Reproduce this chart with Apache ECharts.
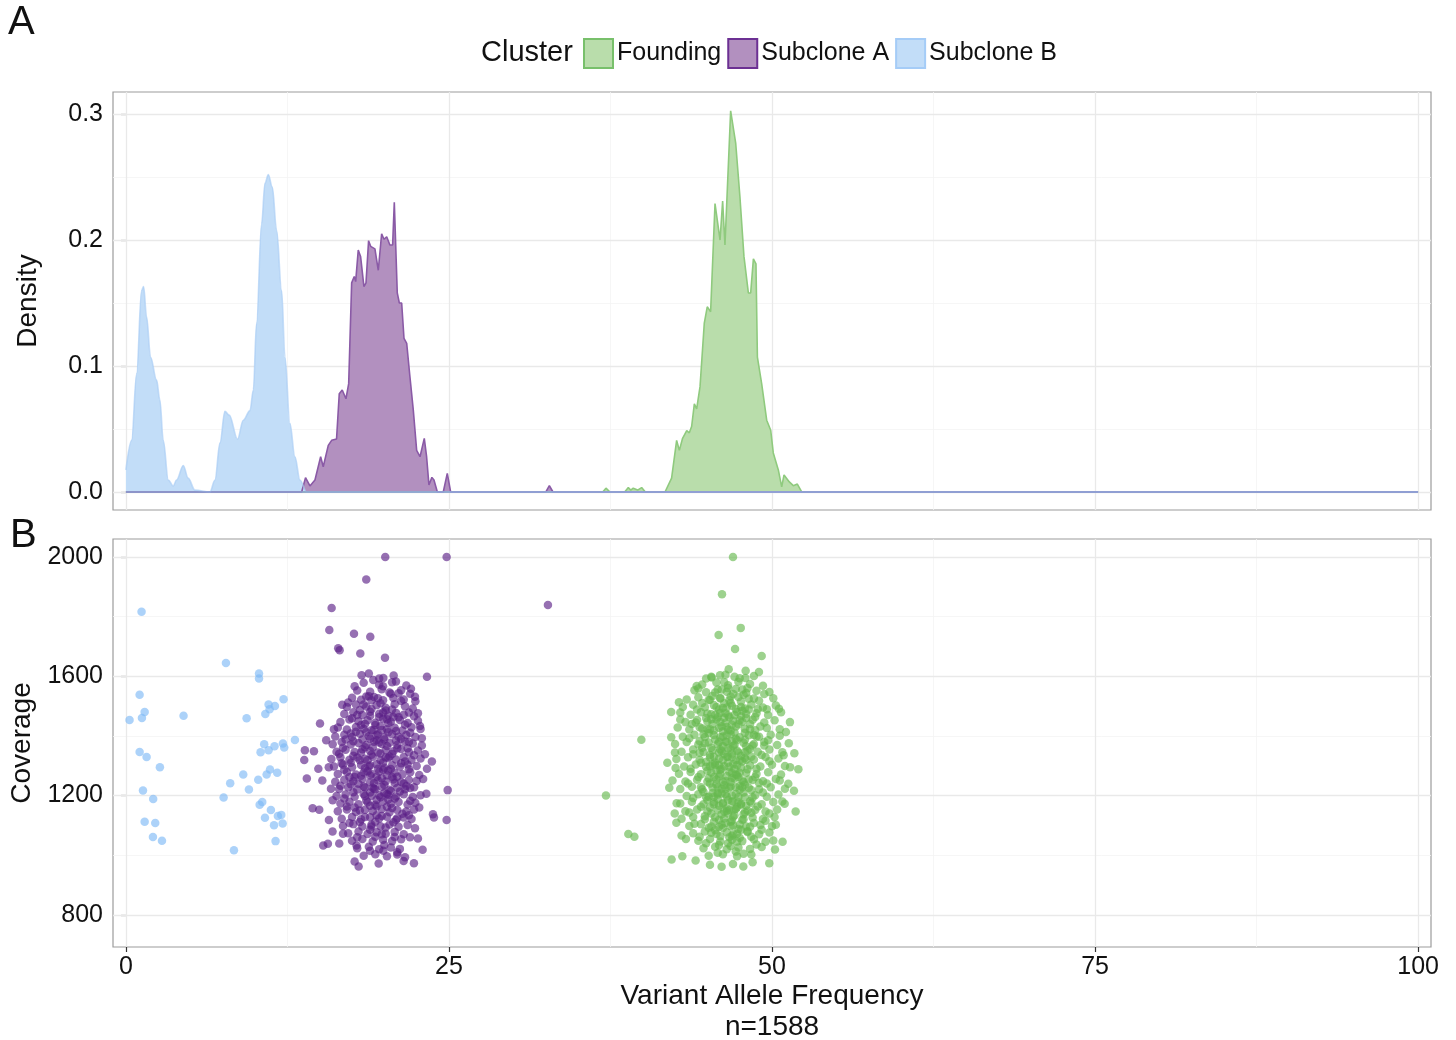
<!DOCTYPE html>
<html>
<head>
<meta charset="utf-8">
<title>Clonal clusters: VAF density and coverage</title>
<script src="https://cdn.jsdelivr.net/npm/echarts@6/dist/echarts.min.js"></script>
<style>
  html, body { margin: 0; padding: 0; background: #ffffff; }
  #chart { width: 1456px; height: 1040px; }
</style>
</head>
<body>
<div id="chart"></div>
<script>
// ---- data -------------------------------------------------------------
const clusters = ['Founding', 'Subclone A', 'Subclone B'];
const sampleSize = 1588;

const vafTicks = [0, 25, 50, 75, 100];
const vafMinor = [12.5, 37.5, 62.5, 87.5];
const vafRange = [0, 100];
const densityTicks = [0, 0.1, 0.2, 0.3];
const densityMinor = [0.05, 0.15, 0.25];
const coverageTicks = [800, 1200, 1600, 2000];
const coverageMinor = [1000, 1400, 1800];

// kernel density per cluster: [VAF, density]
const foundingDensity = [[0,0],[36.9,0],[37.15,0.003],[37.46,0],[38.6,0],[38.88,0.0035],[39.07,0.0015],[39.26,0.003],[39.6,0.0015],[39.91,0.0035],[40.2,0],
  [41.72,0],[42.23,0.011],[42.62,0.041],[42.83,0.033],[43.08,0.0426],[43.4,0.0487],[43.6,0.047],[43.78,0.052],[43.99,0.070],[44.17,0.066],
  [44.43,0.0836],[44.76,0.134],[44.99,0.147],[45.25,0.143],[45.59,0.229],[45.98,0.200],[46.18,0.231],[46.36,0.196],[46.8,0.3026],[47.19,0.277],
  [47.52,0.234],[47.83,0.187],[48.17,0.158],[48.35,0.158],[48.56,0.185],[48.76,0.181],[48.87,0.107],[49.2,0.086],[49.59,0.057],[49.9,0.049],
  [50.1,0.031],[50.49,0.0175],[50.75,0.004],[50.93,0.0135],[51.34,0.008],[51.65,0.005],[51.96,0.0063],[52.3,0],[100,0]];

const subcloneADensity = [[0,0],[13.6,0],[13.9,0.0114],[14.24,0.0048],[14.63,0.0095],[15.07,0.028],[15.27,0.020],[15.66,0.037],[15.92,0.041],
  [16.3,0.042],[16.51,0.078],[16.74,0.081],[17.03,0.074],[17.24,0.086],[17.47,0.166],[17.67,0.171],[17.78,0.167],[17.98,0.192],[18.16,0.187],
  [18.42,0.163],[18.58,0.166],[18.78,0.1995],[18.94,0.195],[19.27,0.193],[19.53,0.176],[19.79,0.205],[19.97,0.2006],[20.18,0.2026],[20.43,0.196],
  [20.64,0.196],[20.77,0.230],[21.0,0.158],[21.16,0.150],[21.34,0.150],[21.52,0.122],[21.73,0.118],[21.98,0.0915],[22.24,0.065],[22.5,0.033],
  [22.76,0.028],[23.09,0.0426],[23.27,0.028],[23.45,0.0056],[23.68,0.0116],[23.84,0.0095],[24.1,0],[24.56,0],[24.87,0.0148],[25.13,0],
  [32.5,0],[32.77,0.005],[33.05,0],[100,0]];

const subcloneBDensity = [[0,0.0175],[0.44,0.041],[0.83,0.094],[1.21,0.160],[1.37,0.163],[1.6,0.139],[1.91,0.107],[2.37,0.089],[2.63,0.073],
  [2.89,0.041],[3.28,0.0095],[3.66,0.0048],[3.92,0.0095],[4.44,0.021],[4.82,0.011],[5.34,0.0015],[6.5,0],[6.89,0.0095],[7.28,0.039],[7.66,0.064],
  [8.0,0.061],[8.64,0.042],[9.08,0.057],[9.6,0.0646],[9.86,0.081],[10.11,0.134],[10.5,0.213],[10.76,0.245],[11.02,0.252],[11.33,0.242],
  [11.66,0.208],[12.05,0.160],[12.31,0.107],[12.69,0.0545],[13.08,0.028],[13.47,0.0095],[13.98,0],[100,0]];

// variants: [VAF, coverage]
const foundingPoints = [
  [46.98,2000],[46.13,1875],[47.58,1762],[45.87,1738],[47.14,1691],[49.2,1668],[39.89,1387],[37.15,1200],[38.88,1071],[39.35,1062],
  [42.23,985],[43.06,996],[44.09,982],[45.2,968],[46.1,961],[46.98,970],[47.78,962],[48.5,976],[49.79,973],[50.23,1019],[50.82,1045],
  [50.1,1049],[51.83,1146],[50.98,1172],[51.26,1239],[52.04,1288],[51.73,1342],[51.08,1413],[51.39,1446],[50.54,1491],[48.99,1614],
  [47.96,1618],[47.94,1594],[46.65,1623],[45.98,1603],[45.33,1596],[44.17,1567],[44.3,1559],[42.8,1513],[42.9,1455],[42.49,1344],
  [42.54,1292],[42.05,1226],[42.62,1174],[42.47,1140],[42.6,1109],[43.34,1054],
  [45.3,1598],[46.4,1605],[47.5,1593],[48.6,1601],
  [44.6,1572],[45.7,1579],[46.6,1570],[47.4,1581],[48.3,1574],[49.3,1568],
  [44.0,1553],[44.9,1546],[45.8,1555],[46.5,1548],[47.2,1557],[48.0,1544],[48.8,1551],[49.8,1547],
  [43.4,1522],[44.3,1529],[45.2,1521],[46.0,1527],[46.7,1519],[47.4,1530],[48.2,1524],[49.0,1518],[50.1,1526],
  [43.1,1497],[43.9,1504],[44.8,1496],[45.5,1503],[46.2,1493],[46.9,1501],[47.6,1497],[48.4,1505],[49.3,1495],[50.3,1502],
  [42.9,1478],[43.7,1471],[44.5,1479],[45.3,1472],[46.0,1477],[46.6,1469],[47.3,1480],[48.0,1473],[48.8,1476],[49.7,1470],[50.7,1479],
  [43.3,1446],[44.2,1453],[45.0,1448],[45.7,1455],[46.4,1444],[47.0,1451],[47.7,1447],[48.5,1454],[49.4,1445],[50.2,1452],
  [42.7,1428],[43.6,1421],[44.4,1429],[45.2,1422],[45.9,1427],[46.6,1420],[47.2,1431],[47.9,1424],[48.7,1419],[49.6,1426],[50.6,1422],
  [43.1,1397],[44.0,1404],[44.8,1396],[45.5,1403],[46.2,1398],[46.8,1405],[47.5,1395],[48.2,1402],[49.0,1397],[49.9,1404],
  [42.5,1373],[43.4,1379],[44.3,1371],[45.1,1378],[45.8,1372],[46.5,1380],[47.1,1370],[47.8,1377],[48.6,1373],[49.4,1379],[50.4,1369],[51.3,1375],
  [43.0,1347],[43.9,1354],[44.7,1346],[45.4,1352],[46.1,1348],[46.8,1355],[47.4,1344],[48.1,1351],[48.9,1347],[49.8,1354],[50.8,1345],
  [42.6,1322],[43.5,1328],[44.4,1320],[45.2,1327],[45.9,1323],[46.5,1330],[47.2,1318],[47.9,1326],[48.6,1321],[49.5,1329],[50.5,1324],
  [43.2,1297],[44.1,1304],[44.9,1296],[45.6,1302],[46.3,1298],[47.0,1305],[47.6,1294],[48.3,1301],[49.1,1297],[50.0,1303],[51.0,1299],
  [42.8,1273],[43.7,1279],[44.5,1271],[45.3,1277],[46.0,1272],[46.7,1280],[47.3,1269],[48.0,1276],[48.8,1272],[49.7,1278],[50.7,1270],
  [43.3,1247],[44.2,1253],[45.0,1246],[45.7,1254],[46.4,1249],[47.1,1256],[47.8,1245],[48.5,1252],[49.3,1248],[50.3,1255],
  [42.9,1222],[43.8,1229],[44.6,1221],[45.4,1227],[46.1,1223],[46.8,1230],[47.5,1219],[48.2,1226],[49.0,1221],[49.9,1228],[51.0,1223],
  [43.4,1198],[44.3,1204],[45.1,1196],[45.8,1203],[46.5,1197],[47.2,1205],[47.9,1194],[48.7,1201],[49.6,1196],[50.5,1203],
  [42.9,1173],[43.8,1179],[44.7,1171],[45.5,1177],[46.2,1172],[46.9,1180],[47.6,1169],[48.4,1176],[49.2,1171],[50.1,1178],
  [43.3,1147],[44.2,1153],[45.0,1146],[45.8,1152],[46.5,1148],[47.2,1155],[47.9,1144],[48.7,1151],[49.5,1146],[50.4,1153],
  [43.0,1122],[43.9,1128],[44.8,1120],[45.6,1127],[46.3,1123],[47.0,1129],[47.7,1119],[48.5,1126],[49.3,1121],[50.2,1128],
  [43.6,1098],[44.5,1104],[45.3,1096],[46.1,1102],[46.8,1097],[47.5,1103],[48.3,1095],[49.1,1101],[50.0,1097],
  [43.9,1073],[44.8,1079],[45.7,1071],[46.5,1077],[47.3,1072],[48.1,1078],[49.0,1070],[49.8,1076],
  [44.3,1048],[45.2,1054],[46.0,1046],[46.9,1052],[47.7,1047],[48.6,1053],[49.5,1045],
  [44.7,1023],[45.6,1028],[46.5,1020],[47.4,1026],[48.3,1021],[49.2,1027],
  [45.1,998],[46.2,1003],[47.3,996],[48.4,1002],
  [45.9,1488],[46.7,1462],[47.4,1439],[46.2,1415],[45.6,1388],[47.0,1366],[46.3,1339],[47.7,1314],[46.0,1286],[46.9,1259],[47.5,1233],
  [45.8,1208],[46.6,1185],[47.3,1161],[46.1,1137],[46.8,1112],[45.4,1440],[48.0,1460],[47.9,1387],[45.2,1336],[48.1,1288],[45.5,1262],
  [47.8,1210],[46.4,1380],[46.7,1296],[46.3,1234],[47.1,1411],[45.9,1166],[47.4,1088],[46.0,1525],[47.0,1540],[46.6,1560],[48.4,1330],
  [44.9,1312],[44.7,1405],[45.0,1185],[48.3,1181],[46.9,1065],[47.2,1490],[45.6,1470],
  [45.1,1520],[45.7,1497],[46.3,1509],[47.6,1515],[48.2,1488],[44.9,1460],[45.5,1418],[46.0,1446],[46.9,1437],[47.6,1466],[48.3,1422],
  [44.8,1375],[45.3,1360],[45.9,1344],[46.6,1358],[47.3,1386],[47.9,1345],[48.5,1368],[45.0,1283],[45.6,1311],[46.2,1318],[46.9,1329],
  [47.5,1276],[48.2,1254],[45.2,1240],[45.8,1228],[46.5,1265],[47.1,1289],[47.7,1250],[48.4,1218],[44.9,1195],[45.5,1171],[46.1,1207],
  [46.7,1226],[47.4,1195],[48.0,1166],[45.3,1140],[45.9,1119],[46.5,1157],[47.1,1134],[47.8,1120],[48.4,1142],[45.6,1084],[46.2,1091],
  [46.9,1116],[47.5,1058],[48.0,1096],[45.9,1034],[46.6,1040],[47.2,1012],[46.4,1476],[47.3,1350],[46.0,1395],[46.8,1245],[47.6,1172],
  [45.4,1305],[46.5,1430],[47.9,1410],[46.2,1175],[47.0,1070],
  [44.6,1510],[45.4,1534],[46.1,1555],[46.8,1532],[47.8,1538],[48.6,1525],[49.4,1540],[44.2,1488],[45.0,1475],[45.8,1462],[46.5,1495],
  [47.1,1470],[47.9,1492],[48.7,1463],[49.6,1489],[43.8,1440],[44.6,1425],[45.3,1456],[46.1,1432],[46.8,1418],[47.5,1452],[48.3,1440],
  [49.1,1431],[43.6,1392],[44.4,1383],[45.1,1409],[45.9,1380],[46.5,1402],[47.2,1390],[48.0,1365],[48.8,1398],[49.7,1385],[43.9,1338],
  [44.6,1360],[45.5,1330],[46.2,1365],[46.9,1341],[47.6,1333],[48.3,1356],[49.2,1336],[43.7,1290],[44.5,1310],[45.2,1298],[45.9,1264],
  [46.6,1310],[47.3,1301],[48.0,1320],[48.8,1290],[49.8,1315],[43.5,1240],[44.3,1262],[45.1,1258],[45.7,1285],[46.4,1222],[47.2,1270],
  [47.9,1236],[48.7,1262],[49.6,1240],[43.9,1192],[44.7,1212],[45.4,1208],[46.2,1246],[46.9,1200],[47.7,1228],[48.5,1193],[49.3,1210],
  [43.6,1143],[44.5,1162],[45.2,1160],[45.8,1188],[46.6,1140],[47.4,1178],[48.1,1150],[48.9,1163],[49.8,1140],[44.0,1105],[44.8,1130],
  [45.5,1112],[46.3,1146],[47.0,1099],[47.8,1137],[48.6,1108],[49.5,1115],[44.4,1062],[45.3,1075],[45.9,1095],[46.7,1060],[47.6,1085],
  [48.4,1062],[49.2,1085],[44.9,1040],[45.8,1008],[46.8,1031],[47.8,1005],[48.8,1036],[46.3,1580],[47.1,1598],[44.9,1592],[48.1,1560],
  [50.6,1400],[50.9,1335],[50.6,1250],[50.8,1180],[51.4,1295],[42.2,1395],[42.3,1250],[41.9,1310],[42.2,1480],[43.0,1066],[50.3,1102],
  [51.7,1216],[45.0,1422],[45.7,1238],[46.3,1461],[46.9,1382],[47.5,1318],[46.1,1290],[46.7,1152],[47.2,1228],[46.0,1063],[46.8,1510],
  [47.7,1555],[45.6,1545],[44.4,1343],[48.9,1490],[49.0,1242],[48.1,1080],[46.4,1108],[47.0,1180],[46.0,1355],[46.6,1330],[47.4,1262],
  [45.5,1196],[48.6,1403],[44.5,1228],[47.3,1046],[45.1,1092],[49.4,1368],[44.1,1445],[47.7,1484],[46.9,1276],[45.9,1301],[46.4,1205],
  [47.1,1154]
];

const subcloneAPoints = [
  [20.07,2000],[24.82,2000],[18.6,1924],[15.92,1829],[15.74,1755],[17.65,1742],[18.91,1732],[16.43,1694],[16.54,1687],[18.14,1676],
  [20.05,1662],[23.3,1598],[24.9,1218],[24.82,1118],[23.76,1137],[23.84,1126],[15.02,1441],[14.45,1157],[14.96,1152],[13.85,1352],
  [13.8,1319],[14.0,1257],[15.27,1032],[15.63,1038],[17.7,979],[18.01,962],[19.56,972],[22.29,973],[22.96,1018],[21.49,980],
  [16.74,1504],[18.24,1603],[19.14,1587],[19.92,1594],[20.72,1602],[22.06,1558],[22.37,1531],[22.76,1433],[23.14,1338],[23.68,1314],
  [23.25,1206],[22.37,1090],[21.98,1060],[21.6,993],[15.71,1118],[15.99,1079],[16.51,1039],[14.89,1290],[15.2,1250],[14.55,1348],
  [15.5,1385],[15.87,1223],[17.85,1032],[18.89,1015],[19.92,1015],[21.0,1010],[32.66,1839],
  [18.4,1578],[19.6,1571],[20.9,1582],[21.7,1569],
  [17.9,1552],[18.9,1548],[19.8,1556],[20.4,1545],[21.3,1553],[22.0,1541],
  [17.5,1528],[18.2,1521],[19.2,1530],[19.9,1519],[20.7,1527],[21.5,1522],[22.4,1516],
  [17.1,1497],[17.8,1505],[18.6,1498],[19.4,1503],[20.1,1494],[20.8,1506],[21.6,1499],[22.2,1492],
  [16.9,1473],[17.6,1479],[18.3,1470],[18.9,1481],[19.6,1474],[20.3,1468],[20.9,1477],[21.5,1471],[22.3,1466],
  [16.6,1446],[17.3,1455],[18.0,1449],[18.7,1452],[19.3,1444],[19.9,1457],[20.5,1447],[21.2,1453],[21.8,1443],[22.6,1451],
  [16.4,1428],[17.1,1421],[17.8,1430],[18.4,1424],[19.0,1419],[19.7,1432],[20.2,1422],[20.8,1427],[21.4,1418],[22.1,1429],[22.8,1423],
  [16.2,1398],[16.9,1404],[17.5,1396],[18.1,1407],[18.8,1399],[19.4,1402],[20.0,1395],[20.6,1405],[21.1,1397],[21.7,1403],[22.4,1396],
  [16.0,1372],[16.7,1379],[17.4,1371],[18.0,1376],[18.6,1369],[19.2,1380],[19.8,1373],[20.4,1377],[21.0,1370],[21.6,1381],[22.2,1374],[22.9,1368],
  [16.3,1347],[17.0,1353],[17.7,1346],[18.3,1355],[18.9,1349],[19.5,1344],[20.1,1352],[20.7,1348],[21.3,1356],[21.9,1345],[22.6,1351],
  [15.9,1322],[16.6,1328],[17.3,1320],[17.9,1327],[18.5,1323],[19.1,1330],[19.7,1318],[20.3,1326],[20.9,1321],[21.5,1329],[22.1,1319],[22.8,1324],
  [16.1,1297],[16.8,1303],[17.5,1295],[18.2,1302],[18.8,1298],[19.4,1305],[20.0,1293],[20.6,1301],[21.2,1296],[21.8,1304],[22.5,1299],
  [16.4,1272],[17.1,1279],[17.8,1270],[18.4,1277],[19.0,1273],[19.6,1280],[20.2,1268],[20.8,1276],[21.4,1271],[22.0,1278],[22.7,1269],
  [16.2,1246],[16.9,1253],[17.6,1248],[18.3,1255],[18.9,1244],[19.5,1251],[20.1,1247],[20.7,1254],[21.3,1245],[21.9,1252],[22.5,1249],
  [16.5,1222],[17.2,1228],[17.9,1220],[18.5,1227],[19.2,1223],[19.8,1229],[20.4,1219],[21.0,1226],[21.6,1221],[22.3,1228],
  [16.3,1198],[17.0,1203],[17.7,1196],[18.4,1205],[19.0,1199],[19.7,1194],[20.3,1202],[20.9,1197],[21.5,1204],[22.2,1195],[22.8,1201],
  [16.6,1173],[17.3,1179],[18.0,1171],[18.7,1177],[19.3,1169],[19.9,1180],[20.5,1172],[21.1,1178],[21.8,1170],[22.4,1176],
  [16.4,1147],[17.1,1153],[17.8,1145],[18.5,1152],[19.1,1148],[19.8,1155],[20.4,1144],[21.0,1151],[21.7,1146],[22.3,1153],
  [16.7,1122],[17.5,1128],[18.2,1120],[18.9,1127],[19.6,1123],[20.2,1129],[20.9,1119],[21.5,1126],[22.1,1121],
  [16.8,1098],[17.6,1104],[18.3,1096],[19.0,1102],[19.7,1097],[20.4,1103],[21.1,1095],[21.8,1101],
  [17.2,1073],[18.0,1079],[18.7,1071],[19.4,1077],[20.1,1072],[20.8,1078],[21.5,1070],
  [17.5,1048],[18.3,1054],[19.1,1046],[19.9,1052],[20.6,1047],[21.3,1053],
  [17.9,1023],[18.8,1028],[19.6,1020],[20.5,1026],[21.2,1021],
  [18.4,998],[19.3,1003],[20.2,996],[21.0,1002],
  [18.6,1412],[19.3,1436],[20.0,1388],[19.1,1362],[20.4,1331],[18.7,1318],[19.9,1286],[20.6,1262],[19.2,1241],[18.3,1388],[20.9,1416],
  [19.6,1463],[18.9,1467],[20.3,1442],[21.0,1358],[19.7,1341],[18.2,1344],[18.5,1291],[19.4,1263],[20.5,1215],[19.6,1201],[18.6,1183],
  [20.2,1162],[19.4,1134],[18.9,1210],[17.6,1333],[17.4,1408],[21.3,1308],[21.5,1240],[20.8,1190],[18.0,1239],[17.7,1160],[19.0,1096],
  [20.7,1110],[19.8,1420],[20.1,1485],[18.4,1505],[19.5,1526],[20.5,1541],[21.1,1462],[17.9,1470],[17.3,1262],[16.7,1308],[21.9,1379],
  [22.0,1225],[18.1,1111],[19.3,1062],[20.0,1034],[18.6,1532],[19.9,1566],
  [17.2,1512],[18.1,1487],[18.8,1533],[19.7,1509],[20.6,1488],[21.3,1517],[21.9,1478],[17.5,1459],[18.2,1436],[19.0,1490],[19.9,1478],
  [20.7,1463],[21.6,1437],[17.0,1388],[17.8,1414],[18.5,1440],[19.5,1405],[20.3,1412],[21.3,1390],[22.0,1410],[16.8,1360],[17.6,1382],
  [18.5,1362],[19.4,1385],[20.2,1366],[20.9,1384],[21.8,1358],[16.5,1340],[17.4,1310],[18.1,1318],[19.0,1337],[19.9,1311],[20.6,1339],
  [21.6,1314],[22.3,1335],[16.9,1286],[17.7,1262],[18.7,1281],[19.5,1290],[20.3,1284],[21.0,1263],[21.9,1288],[16.6,1233],[17.4,1238],
  [18.2,1266],[19.1,1226],[20.0,1235],[20.8,1242],[21.7,1232],[16.9,1190],[17.6,1211],[18.5,1198],[19.4,1186],[20.2,1205],[21.2,1213],
  [22.0,1182],[17.1,1163],[18.1,1150],[18.9,1166],[19.8,1131],[20.6,1158],[21.4,1139],[17.3,1108],[18.5,1128],[19.3,1112],[20.1,1093],
  [21.0,1124],[21.9,1134],[17.9,1060],[18.9,1085],[19.8,1070],[20.8,1061],[18.9,1390],[19.6,1378],[20.1,1327],[18.9,1301],[19.8,1258],
  [20.5,1289],[18.9,1267],[19.3,1221],[20.0,1208],[19.4,1163],[20.3,1187],[18.4,1230],[19.2,1420],[20.2,1456],[19.0,1519],[21.1,1543],
  [19.6,1592],[18.8,1609],[20.6,1580],[17.7,1566],[22.6,1476],[22.9,1392],[23.0,1255],[22.7,1160],[16.1,1422],[15.7,1295],[16.0,1184],
  [16.8,1072],[22.6,1056],[23.3,1290]
];

const subcloneBPoints = [
  [1.21,1816],[7.74,1644],[10.3,1609],[10.3,1592],[1.06,1538],[1.45,1480],[1.24,1460],[0.28,1453],[4.46,1467],[9.34,1459],
  [11.04,1505],[11.12,1489],[11.53,1500],[12.2,1523],[10.79,1473],[10.7,1372],[10.42,1345],[11.04,1352],[11.5,1365],[12.15,1374],
  [12.25,1361],[13.08,1386],[1.06,1346],[1.6,1329],[2.63,1295],[1.32,1217],[2.11,1188],[1.45,1112],[2.27,1108],[2.09,1061],
  [2.79,1048],[9.08,1270],[8.07,1241],[7.56,1193],[9.52,1220],[10.24,1253],[10.89,1270],[11.15,1287],[11.71,1276],[8.36,1016],
  [10.35,1169],[10.55,1178],[11.22,1151],[10.76,1125],[11.76,1131],[12.02,1135],[11.46,1100],[12.13,1106],[11.58,1047]
];

// ---- styling ----------------------------------------------------------
const FONT = '"Liberation Sans", Arial, Helvetica, sans-serif';
const INK = '#111111';
const palette = {
  'Founding':   { fill: '#b9ddab', stroke: '#8fca7e', border: '#78c06b', point: '#66b94f' },
  'Subclone A': { fill: '#b290bf', stroke: '#8a5aa6', border: '#6c3093', point: '#5b1f87' },
  'Subclone B': { fill: '#c2ddf8', stroke: '#a9cdf5', border: '#a5ccf7', point: '#7db8f5' }
};
const densityByCluster = {
  'Founding': foundingDensity, 'Subclone A': subcloneADensity, 'Subclone B': subcloneBDensity
};
const pointsByCluster = {
  'Founding': foundingPoints, 'Subclone A': subcloneAPoints, 'Subclone B': subcloneBPoints
};

// light background guide lines, kept underneath the data
function guideLines(idx, xs, ys, color, width) {
  return {
    type: 'line', xAxisIndex: idx, yAxisIndex: idx, data: [], z: 1, silent: true,
    markLine: {
      z: 1, silent: true, symbol: ['none', 'none'], label: { show: false }, animation: false,
      lineStyle: { color: color, width: width, type: 'solid' },
      emphasis: { disabled: true },
      data: xs.map(v => ({ xAxis: v })).concat(ys.map(v => ({ yAxis: v })))
    }
  };
}

function densitySeries(name) {
  const c = palette[name];
  const s = {
    name: name, type: 'line', xAxisIndex: 0, yAxisIndex: 0, z: 2,
    data: densityByCluster[name], showSymbol: false, symbol: 'none',
    smooth: name === 'Subclone B' ? 0.35 : false, smoothMonotone: 'x',
    lineStyle: { color: c.stroke, width: 1.6, opacity: name === 'Subclone B' ? 0.65 : 1 },
    areaStyle: { color: c.fill, opacity: 1 },
    itemStyle: { color: c.fill },
    emphasis: { disabled: true }, animation: false
  };
  if (name === 'Subclone B') {
    // shared lower edge of the density outlines, drawn over the fills
    s.markLine = {
      z: 3, silent: true, symbol: ['none', 'none'], label: { show: false }, animation: false,
      lineStyle: { color: '#8c9fd6', width: 1.6, type: 'solid' },
      emphasis: { disabled: true },
      data: [[{ coord: [vafRange[0], 0] }, { coord: [vafRange[1], 0] }]]
    };
  }
  return s;
}

function pointSeries(name) {
  const c = palette[name];
  return {
    name: name, type: 'scatter', xAxisIndex: 1, yAxisIndex: 1, z: 2,
    data: pointsByCluster[name], symbol: 'circle', symbolSize: 8.5,
    itemStyle: { color: c.point, opacity: 0.64 },
    emphasis: { disabled: true }, animation: false
  };
}

const tickStyle = { show: true, length: 5, lineStyle: { color: '#333333', width: 1.2 } };
const labelStyle = { color: INK, fontSize: 25, fontFamily: FONT };

const option = {
  backgroundColor: '#ffffff',
  animation: false,
  title: [
    { text: 'A', left: 8, top: 3, padding: 0, textStyle: { fontSize: 40, fontWeight: 'normal', color: INK, fontFamily: FONT } },
    { text: 'B', left: 10, top: 516, padding: 0, textStyle: { fontSize: 40, fontWeight: 'normal', color: INK, fontFamily: FONT } },
    { text: 'Cluster', left: 481, top: 38, padding: 0, textStyle: { fontSize: 29, fontWeight: 'normal', color: INK, fontFamily: FONT } }
  ],
  legend: {
    left: 583, top: 38, padding: 0, itemWidth: 29, itemHeight: 29, itemGap: 6,
    selectedMode: false,
    textStyle: { fontSize: 25, color: INK, fontFamily: FONT, padding: [0, 0, 0, -1] },
    data: clusters.map(n => ({
      name: n, icon: 'rect',
      itemStyle: { color: palette[n].fill, borderColor: palette[n].border, borderWidth: 2 }
    }))
  },
  grid: [
    { left: 113, right: 25, top: 92, height: 418, outerBoundsMode: 'none', containLabel: false,
      show: true, borderColor: '#9c9c9c', borderWidth: 1.2, backgroundColor: 'transparent' },
    { left: 113, right: 25, top: 539, height: 408, outerBoundsMode: 'none', containLabel: false,
      show: true, borderColor: '#9c9c9c', borderWidth: 1.2, backgroundColor: 'transparent' }
  ],
  xAxis: [
    { type: 'value', gridIndex: 0, min: -1, max: 101,
      axisLine: { show: false }, axisTick: { show: false }, axisLabel: { show: false }, splitLine: { show: false } },
    { type: 'value', gridIndex: 1, min: -1, max: 101,
      name: 'Variant Allele Frequency\nn=' + sampleSize, nameLocation: 'middle', nameGap: 34,
      nameTextStyle: { fontSize: 28, color: INK, fontFamily: FONT, lineHeight: 31 },
      axisLine: { show: false },
      axisTick: Object.assign({ customValues: vafTicks }, tickStyle),
      axisLabel: Object.assign({ customValues: vafTicks, margin: 8, formatter: v => String(v) }, labelStyle),
      splitLine: { show: false } }
  ],
  yAxis: [
    { type: 'value', gridIndex: 0, min: -0.0143, max: 0.3175,
      name: 'Density', nameLocation: 'middle', nameGap: 71,
      nameTextStyle: { fontSize: 28, color: INK, fontFamily: FONT },
      axisLine: { show: false },
      axisTick: Object.assign({ customValues: densityTicks }, tickStyle),
      axisLabel: Object.assign({ customValues: densityTicks, margin: 10, formatter: v => v.toFixed(1) }, labelStyle),
      splitLine: { show: false } },
    { type: 'value', gridIndex: 1, min: 692, max: 2060,
      name: 'Coverage', nameLocation: 'middle', nameGap: 71,
      nameTextStyle: { fontSize: 28, color: INK, fontFamily: FONT },
      axisLine: { show: false },
      axisTick: Object.assign({ customValues: coverageTicks }, tickStyle),
      axisLabel: Object.assign({ customValues: coverageTicks, margin: 10, formatter: v => String(v) }, labelStyle),
      splitLine: { show: false } }
  ],
  series: [
    guideLines(0, vafMinor, densityMinor, '#f4f4f4', 0.8),
    guideLines(0, vafTicks, densityTicks, '#e9e9e9', 1.3),
    guideLines(1, vafMinor, coverageMinor, '#f4f4f4', 0.8),
    guideLines(1, vafTicks, coverageTicks, '#e9e9e9', 1.3)
  ]
    .concat(clusters.map(densitySeries))
    .concat(clusters.map(pointSeries))
};

const chart = echarts.init(document.getElementById('chart'), null, { renderer: 'canvas' });
chart.setOption(option);
</script>
</body>
</html>
